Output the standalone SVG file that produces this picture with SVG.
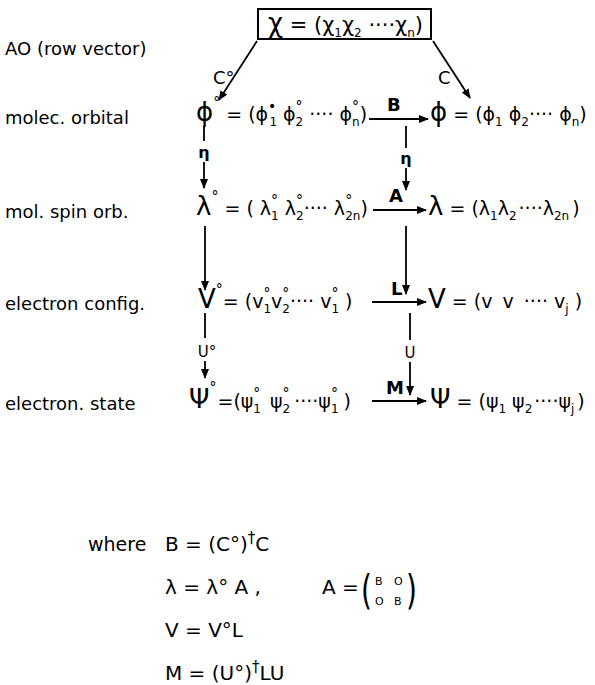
<svg xmlns="http://www.w3.org/2000/svg" width="595" height="685" viewBox="0 0 595 685">
<style>
.t{font-family:"DejaVu Sans","Liberation Sans",sans-serif;fill:#000}
.lab{font-size:18px}
.m{font-size:19px}
.big{font-size:26px}
.s{font-size:12px}
.o{font-size:14px}
.b{font-weight:bold}
.ln{stroke:#000;stroke-width:1.8;fill:none}
</style>
<defs>
<marker id="ah" markerWidth="10" markerHeight="8" refX="9" refY="4" orient="auto" markerUnits="userSpaceOnUse">
<path d="M0,0 L10,4 L0,8 Z" fill="#000"/>
</marker>
</defs>
<rect width="595" height="685" fill="#fff"/>

<g id="labels">
<text class="t lab" x="5" y="55">AO (row vector)</text>
<text class="t lab" x="5" y="124">molec. orbital</text>
<text class="t lab" x="5" y="218">mol. spin orb.</text>
<text class="t lab" x="5" y="310">electron config.</text>
<text class="t lab" x="5" y="410">electron. state</text>
</g>

<g id="ao">
<rect x="258" y="9" width="173" height="30" fill="none" stroke="#000" stroke-width="2"/>
<text class="t" font-size="21" x="268" y="32"><tspan class="big">χ</tspan> = (χ<tspan class="s" dy="5">1</tspan><tspan dy="-5">χ</tspan><tspan class="s" dy="5">2</tspan><tspan dy="-5"> ····χ</tspan><tspan class="s" dy="5">n</tspan><tspan dy="-5">)</tspan></text>
</g>

<g id="mo0">
<text class="t m" x="196" y="121"><tspan class="big">ϕ</tspan><tspan class="o" dy="-14">°</tspan><tspan dy="14"> = (ϕ</tspan><tspan class="o" dy="-10">•</tspan><tspan class="s" dx="-7" dy="15">1</tspan><tspan dy="-5"> ϕ</tspan><tspan class="o" dy="-10">°</tspan><tspan class="s" dx="-7" dy="15">2</tspan><tspan dy="-5"> ···· ϕ</tspan><tspan class="o" dy="-10">°</tspan><tspan class="s" dx="-7" dy="15">n</tspan><tspan dy="-5">)</tspan></text>
</g>
<g id="mo">
<text class="t m" x="430" y="121"><tspan class="big">ϕ</tspan> = (ϕ<tspan class="s" dy="5">1</tspan><tspan dy="-5"> ϕ</tspan><tspan class="s" dy="5">2</tspan><tspan dy="-5">···· ϕ</tspan><tspan class="s" dy="5">n</tspan><tspan dy="-5">)</tspan></text>
</g>

<g id="mso0">
<text class="t m" x="196" y="215"><tspan class="big">λ</tspan><tspan class="o" dy="-14">°</tspan><tspan dy="14"> = ( λ</tspan><tspan class="o" dy="-10">°</tspan><tspan class="s" dx="-7" dy="15">1</tspan><tspan dy="-5"> λ</tspan><tspan class="o" dy="-10">°</tspan><tspan class="s" dx="-7" dy="15">2</tspan><tspan dy="-5">···· λ</tspan><tspan class="o" dy="-10">°</tspan><tspan class="s" dx="-7" dy="15">2n</tspan><tspan dy="-5">)</tspan></text>
</g>
<g id="mso">
<text class="t m" x="428" y="215"><tspan class="big">λ</tspan> = (λ<tspan class="s" dy="5">1</tspan><tspan dy="-5">λ</tspan><tspan class="s" dy="5">2</tspan><tspan dy="-5" dx="2">····λ</tspan><tspan class="s" dy="5">2n</tspan><tspan dy="-5" dx="3">)</tspan></text>
</g>

<g id="ec0">
<text class="t m" x="198" y="308"><tspan class="big">V</tspan><tspan class="o" dy="-14">°</tspan><tspan dy="14">= (v</tspan><tspan class="o" dy="-10">°</tspan><tspan class="s" dx="-7" dy="15">1</tspan><tspan dy="-5">v</tspan><tspan class="o" dy="-10">°</tspan><tspan class="s" dx="-7" dy="15">2</tspan><tspan dy="-5">···· v</tspan><tspan class="o" dy="-10">°</tspan><tspan class="s" dx="-7" dy="15">1</tspan><tspan dy="-5"> )</tspan></text>
</g>
<g id="ec">
<text class="t m" x="428" y="308"><tspan class="big">V</tspan> = (v <tspan dx="4">v </tspan><tspan dx="4">···· v</tspan><tspan class="s" dy="5">j</tspan><tspan dy="-5"> )</tspan></text>
</g>

<g id="es0">
<text class="t m" x="189" y="408"><tspan class="big">Ψ</tspan><tspan class="o" dy="-16">°</tspan><tspan dy="16" dx="1">=(ψ</tspan><tspan class="o" dy="-10">°</tspan><tspan class="s" dx="-7" dy="15">1</tspan><tspan dy="-5" dx="3"> ψ</tspan><tspan class="o" dy="-10">°</tspan><tspan class="s" dx="-7" dy="15">2</tspan><tspan dy="-5" dx="4">····ψ</tspan><tspan class="o" dy="-10">°</tspan><tspan class="s" dx="-7" dy="15">1</tspan><tspan dy="-5" dx="5">)</tspan></text>
</g>
<g id="es">
<text class="t m" x="430" y="408"><tspan class="big">Ψ</tspan> = (ψ<tspan class="s" dy="5">1</tspan><tspan dy="-5"> ψ</tspan><tspan class="s" dy="5">2</tspan><tspan dy="-5" dx="2">····ψ</tspan><tspan class="s" dy="5">j</tspan><tspan dy="-5" dx="3">)</tspan></text>
</g>

<g id="connectors">
<line class="ln" x1="257" y1="41" x2="219" y2="100" marker-end="url(#ah)"/>
<line class="ln" x1="433" y1="41" x2="470" y2="98" marker-end="url(#ah)"/>
<line class="ln" x1="369" y1="119" x2="428" y2="119" marker-end="url(#ah)"/>
<line class="ln" x1="373" y1="210" x2="426" y2="210" marker-end="url(#ah)"/>
<line class="ln" x1="372" y1="302" x2="426" y2="302" marker-end="url(#ah)"/>
<line class="ln" x1="372" y1="401" x2="426" y2="401" marker-end="url(#ah)"/>
<line class="ln" x1="204" y1="126" x2="204" y2="141"/>
<line class="ln" x1="204" y1="162" x2="204" y2="188" marker-end="url(#ah)"/>
<line class="ln" x1="406" y1="126" x2="406" y2="148"/>
<line class="ln" x1="406" y1="168" x2="406" y2="190" marker-end="url(#ah)"/>
<line class="ln" x1="205" y1="226" x2="205" y2="290" marker-end="url(#ah)"/>
<line class="ln" x1="406" y1="226" x2="406" y2="294" marker-end="url(#ah)"/>
<line class="ln" x1="205" y1="313" x2="205" y2="338"/>
<line class="ln" x1="205" y1="361" x2="205" y2="378" marker-end="url(#ah)"/>
<line class="ln" x1="410" y1="313" x2="410" y2="340"/>
<line class="ln" x1="410" y1="362" x2="410" y2="395" marker-end="url(#ah)"/>
<text class="t lab" x="213" y="84">C°</text>
<text class="t lab" x="438" y="84">C</text>
<text class="t lab b" x="387" y="111">B</text>
<text class="t lab b" x="389" y="202">A</text>
<text class="t lab b" x="391" y="295">L</text>
<text class="t lab b" x="386" y="394">M</text>
<text class="t b" font-size="16" x="204" y="158" text-anchor="middle">η</text>
<text class="t b" font-size="16" x="406" y="164" text-anchor="middle">η</text>
<text class="t" font-size="15" x="207" y="357" text-anchor="middle">U°</text>
<text class="t" font-size="15" x="410" y="358" text-anchor="middle">U</text>
</g>

<g id="where">
<text class="t" font-size="19" x="88" y="551">where</text>
<text class="t" font-size="20" x="165" y="551">B = (C°)<tspan font-size="15" dy="-8">†</tspan><tspan dy="8">C</tspan></text>
<text class="t" font-size="20" x="165" y="594">λ =  λ° A ,</text>
<text class="t" font-size="20" x="322" y="594">A =</text>
<text class="t" font-size="40" x="361" y="604" transform="translate(361 0) scale(0.7 1) translate(-361 0)">(</text>
<text class="t" font-size="11" x="375" y="585">B</text>
<text class="t" font-size="11" x="394" y="585">O</text>
<text class="t" font-size="11" x="375" y="605">O</text>
<text class="t" font-size="11" x="394" y="605">B</text>
<text class="t" font-size="40" x="406" y="604" transform="translate(406 0) scale(0.7 1) translate(-406 0)">)</text>
<text class="t" font-size="20" x="165" y="637">V = V°L</text>
<text class="t" font-size="20" x="165" y="680">M = (U°)<tspan font-size="15" dy="-8">†</tspan><tspan dy="8">LU</tspan></text>
</g>
</svg>
